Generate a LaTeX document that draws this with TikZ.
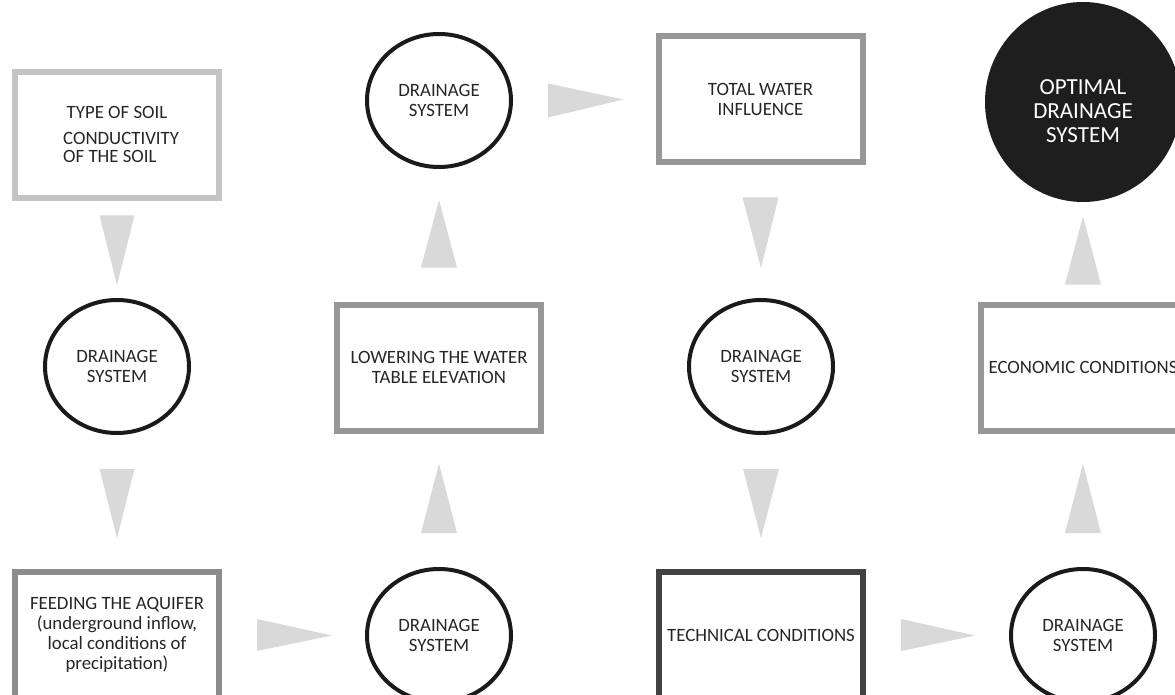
\documentclass[tikz,border=0pt]{standalone}
\usepackage{fontspec}
\setmainfont{Carlito}
\usetikzlibrary{shapes.geometric,calc}
\definecolor{txt}{HTML}{262626}
\definecolor{circ}{HTML}{1A1A1A}
\definecolor{arrgray}{HTML}{D9D9D9}
\definecolor{lightb}{HTML}{C4C4C4}
\definecolor{midb}{HTML}{979797}
\definecolor{feedb}{HTML}{8C8C8C}
\definecolor{darkb}{HTML}{424242}
\definecolor{blackc}{HTML}{1E1E1E}
\begin{document}
\begin{tikzpicture}[x=1pt,y=-1pt,
  every node/.style={font=\fontsize{18.8}{20}\selectfont, text=txt},
  box/.style={draw, line width=6pt, minimum width=204pt, minimum height=126pt, inner sep=0pt, align=center},
  ds/.style={ellipse, draw=circ, line width=4pt, minimum width=144pt, minimum height=133pt, inner sep=0pt, align=center},
  arr/.style={fill=arrgray, draw=none}]
\useasboundingbox (0,0) rectangle (1175,695);

% row 1
\node[box, draw=lightb] (b1) at (117,135.5) {};
\node (b1a) at (117,112) {TYPE OF SOIL};
\node[anchor=west, align=left, inner sep=0pt, font=\fontsize{18.8}{18}\selectfont] (b1b) at (63,147) {CONDUCTIVITY\\OF THE SOIL};
\node[ds] (ct) at (439,100.5) {DRAINAGE\\SYSTEM};
\node[box, draw=midb] (twi) at (760.5,99.5) {TOTAL WATER\\INFLUENCE};
\node[ellipse, fill=blackc, draw=none, minimum width=196pt, minimum height=200pt, inner sep=0pt] (opt) at (1083,102) {};
\node[align=center, text=white, font=\fontsize{23}{24}\selectfont] (optt) at (1083,111) {OPTIMAL\\DRAINAGE\\SYSTEM};

% row 2
\node[ds] (cl) at (117,366.5) {DRAINAGE\\SYSTEM};
\node[box, draw=midb] (low) at (439,367.5) {LOWERING THE WATER\\TABLE ELEVATION};
\node[ds] (cm) at (761,366.5) {DRAINAGE\\SYSTEM};
\node[box, draw=midb] (eco) at (1083,367.5) {ECONOMIC CONDITIONS};

% row 3
\node[box, draw=feedb] (feed) at (117,635) {FEEDING THE AQUIFER\\(underground inflow,\\local conditions of\\precipitation)};
\node[ds] (cb2) at (439,635.5) {DRAINAGE\\SYSTEM};
\node[box, draw=darkb] (tech) at (761,635) {TECHNICAL CONDITIONS};
\node[ds] (cb4) at (1083,635.5) {DRAINAGE\\SYSTEM};

% arrows
\fill[arr] ($(b1.south)+(-17.5,14)$) -- ($(b1.south)+(17.5,14)$) -- ($(cl.north)+(0,-13)$) -- cycle;
\fill[arr] ($(cl.south)+(-17.5,34)$) -- ($(cl.south)+(17.5,34)$) -- ($(feed.north)+(0,-31)$) -- cycle;
\fill[arr] ($(feed.east)+(35,-16)$) -- ($(feed.east)+(35,16)$) -- ($(cb2.west)+(-33,0)$) -- cycle;
\fill[arr] ($(cb2.north)+(-18,-34)$) -- ($(cb2.north)+(18,-34)$) -- ($(low.south)+(0,30)$) -- cycle;
\fill[arr] ($(low.north)+(-18,-34)$) -- ($(low.north)+(18,-34)$) -- ($(ct.south)+(0,31)$) -- cycle;
\fill[arr] ($(ct.east)+(35,-17)$) -- ($(ct.east)+(35,17)$) -- ($(twi.west)+(-32,0)$) -- cycle;
\fill[arr] ($(twi.south)+(-18,32)$) -- ($(twi.south)+(18,32)$) -- ($(cm.north)+(0,-30)$) -- cycle;
\fill[arr] ($(cm.south)+(-18,34)$) -- ($(cm.south)+(18,34)$) -- ($(tech.north)+(0,-31)$) -- cycle;
\fill[arr] ($(tech.east)+(35,-16)$) -- ($(tech.east)+(35,16)$) -- ($(cb4.west)+(-34,0)$) -- cycle;
\fill[arr] ($(cb4.north)+(-18,-34)$) -- ($(cb4.north)+(18,-34)$) -- ($(eco.south)+(0,30)$) -- cycle;
\fill[arr] ($(eco.north)+(-18,-17)$) -- ($(eco.north)+(18,-17)$) -- ($(opt.south)+(0,14)$) -- cycle;
\end{tikzpicture}
\end{document}
